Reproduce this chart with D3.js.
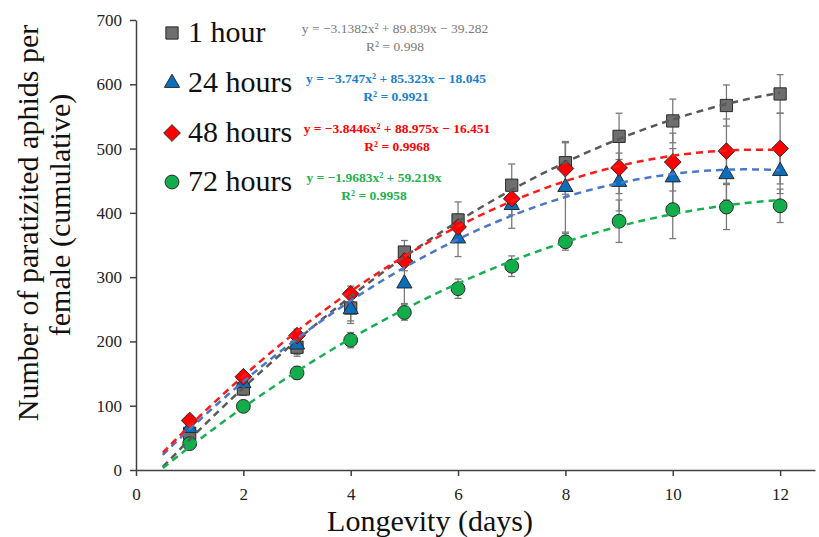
<!DOCTYPE html>
<html><head><meta charset="utf-8">
<script src="https://cdn.jsdelivr.net/npm/d3@7"></script>
<style>body{margin:0;background:#fff}svg{display:block}</style>
</head><body>
<svg id="c" width="819" height="537"></svg>
<script>
const days = [1,2,3,4,5,6,7,8,9,10,11,12];
const hour1 = [57,126,191,252,339,389,443,478,519,543,567,585];
const hour1Err = [12,10,14,20,18,28,33,33,36,34,32,30];
const hours24 = [65,135,195,250,290,360,412,440,448,455,460,465];
const hours24Err = [10,10,15,22,31,28,36,70,45,45,40,35];
const hours48 = [77,145,209,274,325,378,422,469,470,479,496,500];
const hours48Err = [8,8,10,12,15,20,25,40,40,45,50,55];
const hours72 = [41,99,151,202,245,282,317,355,387,405,409,411];
const hours72Err = [8,6,10,12,12,15,16,13,33,45,35,26];
const seriesNames = ["1 hour","24 hours","48 hours","72 hours"];
const trend1 = [-3.1382, 89.839, -39.282];
const trend24 = [-3.747, 85.323, -18.045];
const trend48 = [-3.8446, 88.975, -16.451];
const trend72 = [-2.66, 69.5, -31];
const equations = ["y = \u22123.1382x\u00b2 + 89.839x \u2212 39.282","y = \u22123.747x\u00b2 + 85.323x \u2212 18.045","y = \u22123.8446x\u00b2 + 88.975x \u2212 16.451","y = \u22121.9683x\u00b2 + 59.219x"];
const r2 = ["R\u00b2 = 0.998","R\u00b2 = 0.9921","R\u00b2 = 0.9968","R\u00b2 = 0.9958"];
const xTicks = [0,2,4,6,8,10,12];
const yTicks = [0,100,200,300,400,500,600,700];

const diamond = {draw(ctx,size){const r=Math.sqrt(size)/Math.SQRT2; ctx.moveTo(0,-r);ctx.lineTo(r,0);ctx.lineTo(0,r);ctx.lineTo(-r,0);ctx.closePath();}};
const series = [
  {name:seriesNames[0], v:hour1, e:hour1Err, t:trend1, fill:"#6e6e6e", line:"#595959", eqc:"#7a7a7a", eqw:"normal", shape:d3.symbolSquare, size:150, eq:equations[0], r:r2[0]},
  {name:seriesNames[1], v:hours24, e:hours24Err, t:trend24, fill:"#0a6ebd", line:"#4a78c8", eqc:"#1a7ed0", eqw:"bold", shape:d3.symbolTriangle, size:100, eq:equations[1], r:r2[1]},
  {name:seriesNames[2], v:hours48, e:hours48Err, t:trend48, fill:"#ff0000", line:"#ff1a1a", eqc:"#ff0000", eqw:"bold", shape:diamond, size:140, eq:equations[2], r:r2[2]},
  {name:seriesNames[3], v:hours72, e:hours72Err, t:trend72, fill:"#12ad4b", line:"#16b04e", eqc:"#22b04e", eqw:"bold", shape:d3.symbolCircle, size:150, eq:equations[3], r:r2[3]}
];

const svg = d3.select("#c");
const x = d3.scaleLinear().domain([0,12.65]).range([136,815]);
const y = d3.scaleLinear().domain([0,700]).range([470,20]);
const font = "'Liberation Serif','DejaVu Serif',serif";

// axes
const ya = svg.append("g").attr("transform","translate(136,0)")
  .call(d3.axisLeft(y).tickValues(yTicks).tickSize(6).tickSizeOuter(0));
const xa = svg.append("g").attr("transform","translate(0,470)")
  .call(d3.axisBottom(x).tickValues(xTicks).tickSize(6).tickSizeOuter(0));
[ya,xa].forEach(a=>{
  a.select(".domain").attr("stroke","#404040").attr("stroke-width",1.5);
  a.selectAll(".tick line").attr("stroke","#404040").attr("stroke-width",1.5);
  a.selectAll(".tick text").attr("fill","#222").style("font-family",font).style("font-size","17px");
});
ya.selectAll(".tick text").attr("x",-14);
xa.selectAll(".tick text").attr("y",18);

// error bars
series.forEach(s=>{
  const g = svg.append("g");
  days.forEach((d,i)=>{
    const cx = x(d), y1 = y(s.v[i]+s.e[i]), y2 = y(s.v[i]-s.e[i]);
    g.append("line").attr("x1",cx).attr("x2",cx).attr("y1",y1).attr("y2",y2).attr("stroke","#7a7a7a").attr("stroke-width",1.3);
    [y1,y2].forEach(yy=>g.append("line").attr("x1",cx-3.5).attr("x2",cx+3.5).attr("y1",yy).attr("y2",yy).attr("stroke","#7a7a7a").attr("stroke-width",1.3));
  });
});

// markers
series.forEach(s=>{
  svg.append("g").selectAll("path").data(days).join("path")
    .attr("transform",(d,i)=>`translate(${x(d)},${y(s.v[i])})`)
    .attr("d", d3.symbol().type(s.shape).size(s.size))
    .attr("fill",s.fill).attr("stroke","#2a2a2a").attr("stroke-width",1);
});

// trend lines
series.forEach(s=>{
  const xs = d3.range(0.5,12.001,0.1);
  const f = t=> s.t[0]*t*t + s.t[1]*t + s.t[2];
  svg.append("path").datum(xs)
    .attr("d", d3.line().x(d=>x(d)).y(d=>y(f(d))))
    .attr("fill","none").attr("stroke",s.line).attr("stroke-width",2.5).attr("stroke-dasharray","7,5");
});

// legend
const legY = [33,83,133,182];
const eqX = [395,396,397,374];
series.forEach((s,i)=>{
  svg.append("path").attr("transform",`translate(172,${legY[i]})`)
    .attr("d", d3.symbol().type(s.shape).size(s.size)).attr("fill",s.fill).attr("stroke","#2a2a2a").attr("stroke-width",1);
  svg.append("text").attr("x",188).attr("y",legY[i]+9).text(s.name)
    .style("font-family",font).style("font-size","30px").attr("fill","#111");
  svg.append("text").attr("x",eqX[i]).attr("y",legY[i]).attr("text-anchor","middle").text(s.eq)
    .style("font-family",font).style("font-size","13.5px").style("font-weight",s.eqw).attr("fill",s.eqc);
  svg.append("text").attr("x",eqX[i]).attr("y",legY[i]+18).attr("text-anchor","middle").text(s.r)
    .style("font-family",font).style("font-size","13.5px").style("font-weight",s.eqw).attr("fill",s.eqc);
});

// axis titles
svg.append("text").attr("transform","translate(38,223) rotate(-90)").attr("text-anchor","middle")
  .text("Number of paratizited aphids per").style("font-family",font).style("font-size","30px").attr("fill","#111");
svg.append("text").attr("transform","translate(70,215) rotate(-90)").attr("text-anchor","middle")
  .text("female (cumulative)").style("font-family",font).style("font-size","30px").attr("fill","#111");
svg.append("text").attr("x",430).attr("y",531).attr("text-anchor","middle")
  .text("Longevity (days)").style("font-family",font).style("font-size","30px").attr("fill","#111");
</script>
</body></html>
